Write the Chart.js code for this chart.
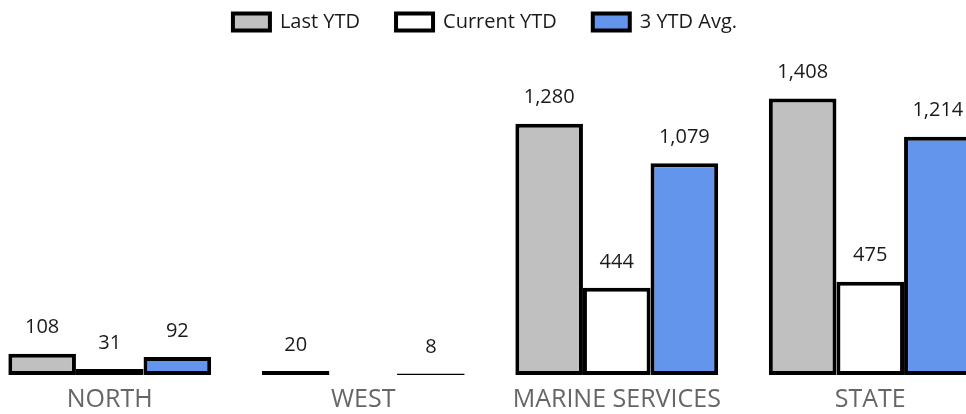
<!DOCTYPE html>
<html>
<head>
<meta charset="utf-8">
<script src="https://cdn.jsdelivr.net/npm/chart.js@4.4.1/dist/chart.umd.min.js"></script>
<style>
  html, body { margin: 0; padding: 0; background: #fff; overflow: hidden; }
  body { width: 966px; height: 414px; position: relative; }
  #wrap { position: absolute; left: -41px; top: -24px; width: 1050px; height: 449px; }
</style>
</head>
<body>
<div id="wrap"><canvas id="ytdChart"></canvas></div>
<script>
const categories = ["NORTH", "WEST", "MARINE SERVICES", "STATE"];
const lastYtd = [108, 20, 1280, 1408];
const currentYtd = [31, null, 444, 475];
const avg3Ytd = [92, 8, 1079, 1214];

const FONT = "'Open Sans', 'Noto Sans', sans-serif";

// value labels above each bar
const barLabels = {
  id: "barLabels",
  afterDatasetsDraw(chart) {
    const ctx = chart.ctx;
    ctx.save();
    ctx.font = "20px " + FONT;
    ctx.fillStyle = "#1a1a1a";
    ctx.textAlign = "center";
    ctx.textBaseline = "middle";
    chart.data.datasets.forEach((ds, i) => {
      const meta = chart.getDatasetMeta(i);
      meta.data.forEach((bar, j) => {
        const v = ds.data[j];
        if (v === null || v === undefined) return;
        ctx.fillText(v.toLocaleString("en-US"), bar.x, bar.y - 26);
      });
    });
    ctx.restore();
  },
};

// nudge legend so it sits centred on the page, not on the plot area
const legendShift = {
  id: "legendShift",
  afterLayout(chart) {
    chart.legend.left -= 5;
    chart.legend.right -= 5;
  },
};

new Chart(document.getElementById("ytdChart").getContext("2d"), {
  type: "bar",
  data: {
    labels: categories,
    datasets: [
      {
        label: "Last YTD",
        data: lastYtd,
        backgroundColor: "#c0c0c0",
        borderColor: "#000",
        borderWidth: 4,
        borderSkipped: false,
      },
      {
        label: "Current YTD",
        data: currentYtd,
        backgroundColor: "#fff",
        borderColor: "#000",
        borderWidth: 4,
        borderSkipped: false,
      },
      {
        label: "3 YTD Avg.",
        data: avg3Ytd,
        backgroundColor: "#6495ed",
        borderColor: "#000",
        borderWidth: 4,
        borderSkipped: false,
      },
    ],
  },
  options: {
    responsive: true,
    maintainAspectRatio: false,
    animation: false,
    categoryPercentage: 0.8,
    barPercentage: 1.0,
    layout: {
      padding: { left: 24, right: 12, top: 0, bottom: 0 },
    },
    plugins: {
      legend: {
        position: "top",
        labels: {
          boxWidth: 37,
          boxHeight: 17,
          padding: 36,
          color: "#1a1a1a",
          font: { family: FONT, size: 20 },
        },
      },
      tooltip: { enabled: false },
    },
    scales: {
      x: {
        grid: { display: false, drawTicks: false },
        border: { display: false },
        ticks: {
          color: "#666",
          padding: 10,
          font: { family: FONT, size: 25 },
        },
      },
      y: {
        display: false,
        min: 0,
        max: 1696,
      },
    },
  },
  plugins: [barLabels, legendShift],
});
</script>
</body>
</html>
